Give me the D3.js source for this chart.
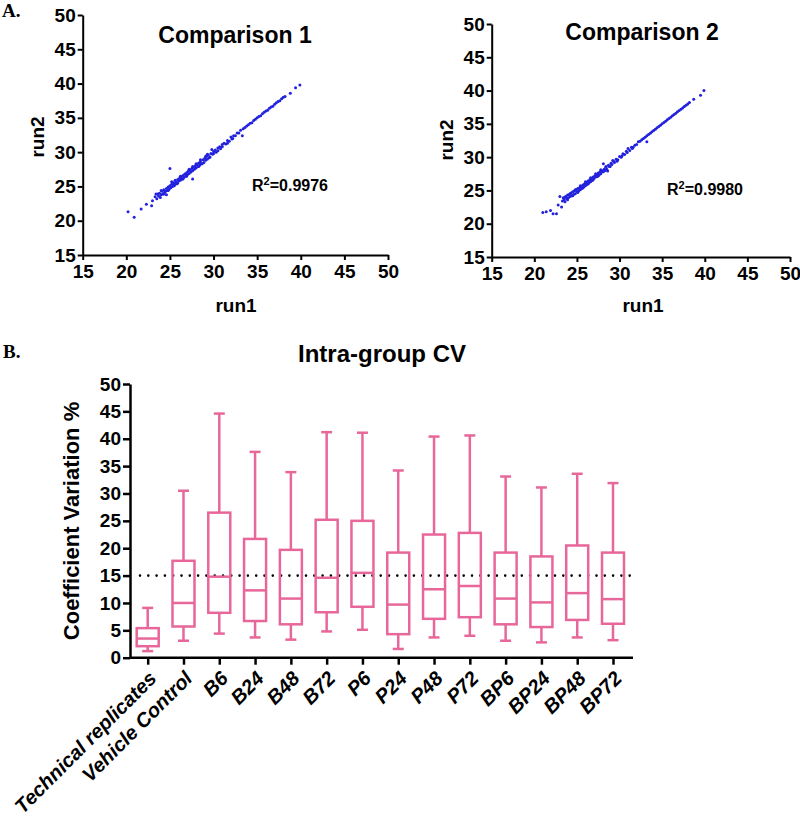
<!DOCTYPE html>
<html><head><meta charset="utf-8">
<script src="https://cdn.jsdelivr.net/npm/d3@7"></script>
<style>
body{margin:0;background:#fff}
svg text{font-family:"Liberation Sans",Arial,sans-serif;font-weight:bold;fill:#000}
</style>
</head><body>
<svg id="c" width="800" height="821"></svg>
<script>
// ---------- DATA ----------
const scatterTicks = [15,20,25,30,35,40,45,50];
const comp1Points = [
[20.2,21.3],[20.9,20.5],[21.7,21.7],[22.3,22.4],[22.9,22.2],[23.0,22.9],[23.3,23.5],[23.4,23.9],[23.5,23.2],[23.7,23.6],[23.8,24.0],[23.9,23.4],[24.0,23.8],[24.1,24.3],[24.2,23.9],[24.3,24.5],[24.4,24.1],[24.5,24.3],[24.6,23.8],[24.6,24.7],[24.7,24.4],[24.8,24.9],[24.9,24.6],[25.0,27.6],[25.0,25.1],[25.1,24.8],[25.2,25.3],[25.3,25.0],[25.3,25.6],[25.4,25.2],[25.5,25.5],[25.6,25.3],[25.6,25.9],[25.7,25.6],[25.8,25.4],[25.9,26.0],[26.0,25.8],[26.1,26.2],[26.2,25.9],[26.3,26.4],[26.4,26.1],[26.5,26.6],[26.6,26.3],[26.7,26.8],[26.8,26.5],[26.9,27.0],[27.0,26.7],[27.1,27.2],[27.2,26.9],[27.3,27.4],[27.4,27.1],[27.5,27.6],[27.6,26.1],[27.6,27.3],[27.7,27.8],[27.8,27.5],[27.9,28.0],[28.0,27.7],[28.1,28.2],[28.2,27.9],[28.3,28.4],[28.4,28.1],[28.5,28.6],[28.6,28.3],[28.8,28.9],[28.9,28.5],[29.0,29.1],[29.1,28.8],[29.2,29.4],[29.3,29.0],[29.4,29.6],[29.5,29.2],[29.7,29.8],[29.8,30.4],[29.9,29.7],[30.0,30.1],[30.2,30.3],[30.3,30.0],[30.5,30.6],[30.7,30.8],[30.8,30.5],[31.0,31.1],[31.2,31.3],[31.4,31.2],[31.6,31.7],[31.8,31.6],[32.0,32.2],[32.1,31.9],[32.3,32.4],[32.5,32.4],[32.7,32.8],[32.9,32.8],[33.1,33.2],[33.3,32.4],[33.4,33.4],[33.6,33.6],[33.8,33.8],[34.0,34.0],[34.2,34.2],[34.4,34.3],[34.6,34.6],[34.8,34.8],[35.0,35.0],[35.2,35.2],[35.4,35.3],[35.6,35.6],[35.8,35.8],[36.0,36.0],[36.2,36.1],[36.4,36.4],[36.6,36.6],[36.8,36.7],[37.0,37.0],[37.2,37.2],[37.4,37.4],[37.6,37.5],[37.8,37.8],[38.0,38.0],[38.2,38.1],[38.8,38.6],[39.4,39.4],[39.9,39.8],
[23.6,23.9],[24.0,24.4],[24.3,23.9],[24.8,24.4],[25.2,25.7],[25.5,25.1],[25.9,25.5],[26.2,26.5],[26.5,26.1],[26.9,26.5],[27.2,27.5],[27.6,27.9],[28.0,28.3],[28.3,27.9],[28.7,28.3],[29.1,29.4],[29.6,29.3],[30.0,29.8],[30.5,30.2],[31.0,30.8],[31.6,31.3],[32.2,32.0],[28.5,28.9],[29.3,29.7]
];
const comp2Points = [
[21.0,21.7],[21.4,21.8],[21.9,22.0],[22.2,21.5],[22.6,21.5],[22.8,22.8],[23.0,24.1],[23.2,22.5],[23.3,23.4],[23.4,23.9],[23.5,23.6],[23.6,23.3],[23.7,24.1],[23.8,23.8],[23.9,24.3],[24.0,23.9],[24.1,24.4],[24.2,24.1],[24.3,24.6],[24.4,24.2],[24.5,24.8],[24.6,24.4],[24.7,24.9],[24.8,24.5],[24.9,25.1],[25.0,24.8],[25.1,25.3],[25.2,24.9],[25.3,25.4],[25.4,25.1],[25.5,25.6],[25.6,25.3],[25.7,25.8],[25.8,25.5],[25.9,26.0],[26.0,25.7],[26.1,26.2],[26.2,25.9],[26.3,26.4],[26.4,26.1],[26.5,26.6],[26.6,26.3],[26.7,26.8],[26.8,26.5],[26.9,27.0],[27.0,26.8],[27.1,27.2],[27.2,27.0],[27.3,27.4],[27.4,27.1],[27.5,27.6],[27.6,27.3],[27.7,27.8],[27.8,27.5],[27.9,28.0],[28.0,27.8],[28.1,29.0],[28.2,28.2],[28.3,28.0],[28.4,28.5],[28.5,28.2],[28.6,27.9],[28.7,28.8],[28.8,28.6],[29.0,29.1],[29.1,28.9],[29.3,29.4],[29.4,29.2],[29.6,29.7],[29.8,29.6],[30.0,30.1],[30.2,30.0],[30.4,30.5],[30.6,30.4],[30.8,30.9],[31.0,31.3],[31.2,31.0],[31.4,31.5],[31.6,31.5],[31.8,31.8],[32.0,31.9],[32.2,32.3],[32.4,32.4],[32.6,32.6],[32.8,32.8],[33.0,33.0],[33.2,32.3],[33.2,33.2],[33.4,33.4],[33.6,33.6],[33.8,33.8],[34.0,34.0],[34.2,34.2],[34.4,34.4],[34.6,34.6],[34.8,34.8],[35.0,35.0],[35.2,35.2],[35.4,35.4],[35.6,35.6],[35.8,35.8],[36.0,36.0],[36.2,36.2],[36.4,36.4],[36.6,36.6],[36.8,36.8],[37.0,37.0],[37.2,37.2],[37.4,37.4],[37.6,37.6],[37.8,37.8],[38.0,38.0],[38.2,38.2],[38.7,38.7],[39.5,39.3],[39.9,40.0],
[23.6,24.0],[23.9,23.6],[24.2,24.5],[24.5,24.2],[24.8,25.1],[25.1,24.7],[25.4,25.7],[25.7,25.4],[26.0,26.3],[26.3,26.0],[26.6,26.9],[26.9,26.6],[27.2,27.5],[27.5,27.2],[27.8,28.1],[28.1,27.8],[28.4,28.6],[28.9,28.6],[29.2,29.5],[29.7,29.4],[30.3,30.2],[30.9,30.7],[31.5,31.3]
];
const boxCategories = ["Technical replicates","Vehicle Control","B6","B24","B48","B72","P6","P24","P48","P72","BP6","BP24","BP48","BP72"];
const boxMin    = [1.2, 3.1, 4.4, 3.7, 3.3, 4.8, 5.1, 1.6, 3.7, 4.0, 3.1, 2.8, 3.7, 3.2];
const boxQ1     = [2.1, 5.7, 8.2, 6.7, 6.1, 8.3, 9.3, 4.3, 7.1, 7.4, 6.1, 5.6, 6.9, 6.2];
const boxMedian = [3.5,10.0,14.8,12.3,10.8,14.6,15.5, 9.7,12.5,13.1,10.8,10.1,11.8,10.7];
const boxQ3     = [5.4,17.7,26.5,21.7,19.7,25.2,25.0,19.2,22.5,22.8,19.2,18.5,20.5,19.2];
const boxMax    = [9.1,30.5,44.6,37.6,33.9,41.2,41.1,34.2,40.4,40.6,33.1,31.1,33.6,31.9];
const boxTicks  = [0,5,10,15,20,25,30,35,40,45,50];
const cvThreshold = 15;

// ---------- DRAW ----------
const svg = d3.select("#c");
const BLUE = "#2222dd", PINK = "#e8679a";

svg.append("text").attr("x",2).attr("y",17)
  .style("font-family","'Liberation Serif',serif").style("font-size","19px").text("A.");
svg.append("text").attr("x",3).attr("y",358)
  .style("font-family","'Liberation Serif',serif").style("font-size","19px").text("B.");

function scatter(pts, cfg){
  const x = d3.scaleLinear().domain([15,50]).range([cfg.x0,cfg.x1]);
  const y = d3.scaleLinear().domain([15,50]).range([cfg.yB,cfg.yT]);
  const g = svg.append("g");
  const ax = g.append("g").attr("transform",`translate(0,${cfg.yB})`)
    .call(d3.axisBottom(x).tickValues(scatterTicks).tickSize(5).tickSizeOuter(0).tickPadding(5));
  const ay = g.append("g").attr("transform",`translate(${cfg.x0},0)`)
    .call(d3.axisLeft(y).tickValues(scatterTicks).tickSize(5).tickSizeOuter(0).tickPadding(2));
  [ax,ay].forEach(a=>{
    a.select(".domain").attr("stroke","#000").attr("stroke-width",2);
    a.selectAll(".tick line").attr("stroke","#000").attr("stroke-width",2);
    a.selectAll(".tick text").style("font-size","19px").style("font-family","'Liberation Sans',Arial,sans-serif").style("font-weight","bold");
  });
  g.append("g").selectAll("circle").data(pts).join("circle")
    .attr("cx",d=>x(d[0])).attr("cy",d=>y(d[1])).attr("r",1.5).attr("fill",BLUE);
  g.append("text").attr("x",cfg.tx).attr("y",cfg.ty).attr("text-anchor","middle")
    .style("font-size","23px").text(cfg.title);
  const r = g.append("text").attr("x",cfg.rx).attr("y",cfg.ry).style("font-size","16px");
  r.append("tspan").text("R");
  r.append("tspan").attr("dy",-6).style("font-size","11px").text("2");
  r.append("tspan").attr("dy",6).text(cfg.r2);
  g.append("text").attr("transform",`translate(${cfg.ylx},${cfg.yly}) rotate(-90)`)
    .attr("text-anchor","middle").style("font-size","19px").text("run2");
  g.append("text").attr("x",cfg.xlx).attr("y",cfg.xly).attr("text-anchor","middle")
    .style("font-size","19px").text("run1");
}
scatter(comp1Points,{x0:82.7,x1:388,yT:15,yB:255,title:"Comparison 1",tx:235,ty:43,
  rx:252,ry:191,r2:"=0.9976",ylx:44,yly:137,xlx:236,xly:312});
scatter(comp2Points,{x0:491.7,x1:790,yT:24,yB:257,title:"Comparison 2",tx:642,ty:40,
  rx:667,ry:195,r2:"=0.9980",ylx:453,yly:140,xlx:643,xly:312});

// box plot
const bx = d3.scalePoint().domain(boxCategories).range([147.7,613]);
const by = d3.scaleLinear().domain([0,50]).range([657.7,384]);
const bg = svg.append("g");
svg.append("text").attr("x",382).attr("y",362).attr("text-anchor","middle")
  .style("font-size","24px").text("Intra-group CV");
svg.append("text").attr("transform",`translate(79,521) rotate(-90)`).attr("text-anchor","middle")
  .style("font-size","22px").text("Coefficient Variation %");

const bay = bg.append("g").attr("transform","translate(130,0)")
  .call(d3.axisLeft(by).tickValues(boxTicks).tickSize(7).tickSizeOuter(0).tickPadding(2));
bay.select(".domain").attr("stroke","#000").attr("stroke-width",2.5);
bay.selectAll(".tick line").attr("stroke","#000").attr("stroke-width",2.5);
bay.selectAll(".tick text").style("font-size","19px").style("font-family","'Liberation Sans',Arial,sans-serif").style("font-weight","bold");

const bax = bg.append("g").attr("transform",`translate(0,${by(0)})`)
  .call(d3.axisBottom(bx).tickSize(7).tickSizeOuter(0));
bax.select(".domain").remove();
bax.selectAll(".tick line").attr("stroke","#000").attr("stroke-width",2.5);
bax.selectAll(".tick text").remove();
bg.append("line").attr("x1",130).attr("x2",633).attr("y1",by(0)).attr("y2",by(0))
  .attr("stroke","#000").attr("stroke-width",2.5);

bg.append("g").selectAll("text").data(boxCategories).join("text")
  .attr("transform",d=>`translate(${bx(d)+10},${by(0)+22}) rotate(-45)`)
  .attr("text-anchor","end").style("font-size","20px").style("font-style","italic").text(d=>d);

// threshold dotted line
bg.append("line").attr("x1",140).attr("x2",633).attr("y1",by(cvThreshold)).attr("y2",by(cvThreshold))
  .attr("stroke","#000").attr("stroke-width",2.6).attr("stroke-linecap","round").attr("stroke-dasharray","0,8.3");

const bw = 22, cw = 11;
boxCategories.forEach((c,i)=>{
  const cx = bx(c);
  const gg = bg.append("g").attr("stroke",PINK).attr("stroke-width",2.5).attr("fill","none");
  gg.append("line").attr("x1",cx).attr("x2",cx).attr("y1",by(boxMax[i])).attr("y2",by(boxQ3[i]));
  gg.append("line").attr("x1",cx).attr("x2",cx).attr("y1",by(boxQ1[i])).attr("y2",by(boxMin[i]));
  gg.append("line").attr("x1",cx-cw/2).attr("x2",cx+cw/2).attr("y1",by(boxMax[i])).attr("y2",by(boxMax[i]));
  gg.append("line").attr("x1",cx-cw/2).attr("x2",cx+cw/2).attr("y1",by(boxMin[i])).attr("y2",by(boxMin[i]));
  gg.append("rect").attr("x",cx-bw/2).attr("width",bw).attr("y",by(boxQ3[i])).attr("height",by(boxQ1[i])-by(boxQ3[i]));
  gg.append("line").attr("x1",cx-bw/2).attr("x2",cx+bw/2).attr("y1",by(boxMedian[i])).attr("y2",by(boxMedian[i]));
});
</script></body></html>
